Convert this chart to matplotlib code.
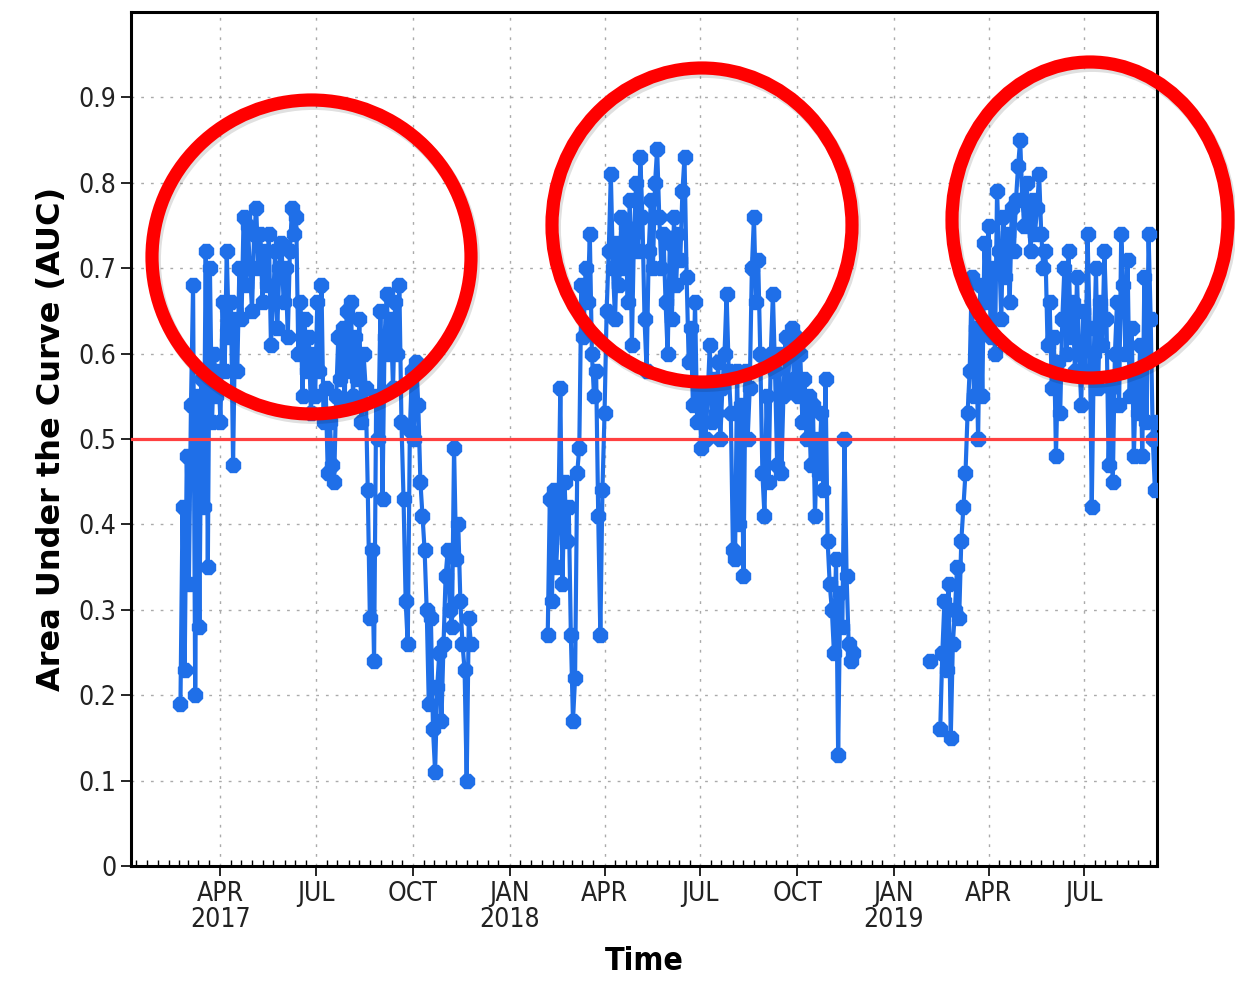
import matplotlib
matplotlib.use("Agg")
import matplotlib.pyplot as plt
import matplotlib.dates as mdates
from matplotlib.patches import Ellipse
import pandas as pd

plt.rcParams['font.family'] = ['Liberation Sans Narrow', 'DejaVu Sans']
plt.rcParams['font.stretch'] = 'condensed'

# AUC readings, one every 2 days from the start date of each run
start_2017 = "2017-02-22"
auc_2017 = [0.19, 0.42, 0.23, 0.48, 0.33, 0.54, 0.68, 0.20, 0.55, 0.28,
            0.57, 0.42, 0.72, 0.35, 0.70, 0.52, 0.60, 0.55, 0.58, 0.52,
            0.66, 0.58, 0.72, 0.62, 0.66, 0.47, 0.64, 0.58, 0.70, 0.64,
            0.76, 0.68, 0.75, 0.70, 0.65, 0.74, 0.77, 0.70, 0.74, 0.66,
            0.72, 0.68, 0.74, 0.61, 0.66, 0.72, 0.63, 0.70, 0.73, 0.66,
            0.70, 0.62, 0.72, 0.77, 0.74, 0.76, 0.60, 0.66, 0.55, 0.64,
            0.58, 0.62, 0.53, 0.60, 0.55, 0.66, 0.58, 0.68, 0.52, 0.56,
            0.46, 0.52, 0.47, 0.45, 0.55, 0.62, 0.57, 0.63, 0.54, 0.65,
            0.58, 0.66, 0.55, 0.62, 0.57, 0.64, 0.52, 0.60, 0.56, 0.44,
            0.29, 0.37, 0.24, 0.55, 0.50, 0.65, 0.43, 0.62, 0.67, 0.60,
            0.64, 0.56, 0.66, 0.60, 0.68, 0.52, 0.43, 0.31, 0.26, 0.51,
            0.58, 0.50, 0.59, 0.54, 0.45, 0.41, 0.37, 0.30, 0.19, 0.29,
            0.16, 0.11, 0.21, 0.25, 0.17, 0.26, 0.34, 0.37, 0.30, 0.28,
            0.49, 0.36, 0.40, 0.31, 0.26, 0.23, 0.10, 0.29, 0.26]

start_2018 = "2018-02-06"
auc_2018 = [0.27, 0.43, 0.31, 0.44, 0.35, 0.40, 0.56, 0.33, 0.45, 0.38,
            0.42, 0.27, 0.17, 0.22, 0.46, 0.49, 0.68, 0.62, 0.70, 0.66,
            0.74, 0.60, 0.55, 0.58, 0.41, 0.27, 0.44, 0.53, 0.65, 0.72,
            0.81, 0.70, 0.64, 0.73, 0.68, 0.76, 0.70, 0.75, 0.66, 0.78,
            0.61, 0.74, 0.80, 0.72, 0.83, 0.76, 0.64, 0.58, 0.72, 0.78,
            0.70, 0.80, 0.84, 0.76, 0.70, 0.74, 0.66, 0.60, 0.73, 0.64,
            0.76, 0.68, 0.74, 0.71, 0.79, 0.83, 0.69, 0.59, 0.63, 0.54,
            0.66, 0.52, 0.55, 0.49, 0.56, 0.50, 0.55, 0.61, 0.52, 0.57,
            0.53, 0.59, 0.50, 0.56, 0.60, 0.67, 0.58, 0.53, 0.37, 0.36,
            0.58, 0.40, 0.54, 0.34, 0.58, 0.50, 0.56, 0.70, 0.76, 0.66,
            0.71, 0.60, 0.46, 0.41, 0.55, 0.45, 0.60, 0.67, 0.58, 0.47,
            0.60, 0.46, 0.55, 0.62, 0.56, 0.60, 0.63, 0.57, 0.62, 0.55,
            0.60, 0.52, 0.57, 0.50, 0.55, 0.47, 0.54, 0.41, 0.50, 0.46,
            0.53, 0.44, 0.57, 0.38, 0.33, 0.30, 0.25, 0.36, 0.13, 0.32,
            0.28, 0.50, 0.34, 0.26, 0.24, 0.25]

single_date_2019 = "2019-02-04"
single_auc_2019 = 0.24

start_2019 = "2019-02-14"
auc_2019 = [0.16, 0.25, 0.31, 0.23, 0.33, 0.15, 0.26, 0.30, 0.35, 0.29,
            0.38, 0.42, 0.46, 0.53, 0.58, 0.69, 0.55, 0.63, 0.50, 0.68,
            0.55, 0.73, 0.66, 0.75, 0.62, 0.70, 0.60, 0.79, 0.72, 0.64,
            0.76, 0.69, 0.74, 0.66, 0.77, 0.72, 0.78, 0.82, 0.85, 0.78,
            0.75, 0.80, 0.76, 0.72, 0.78, 0.74, 0.77, 0.81, 0.74, 0.70,
            0.72, 0.61, 0.66, 0.56, 0.62, 0.48, 0.59, 0.53, 0.64, 0.70,
            0.60, 0.72, 0.62, 0.66, 0.58, 0.69, 0.60, 0.54, 0.65, 0.58,
            0.74, 0.63, 0.42, 0.60, 0.70, 0.56, 0.66, 0.61, 0.72, 0.64,
            0.47, 0.56, 0.45, 0.60, 0.66, 0.54, 0.74, 0.68, 0.60, 0.71,
            0.55, 0.63, 0.48, 0.57, 0.53, 0.61, 0.48, 0.69, 0.52, 0.74,
            0.64, 0.50, 0.44, 0.52]

tick_dates = ["2017-04-01", "2017-07-01", "2017-10-01", "2018-01-01",
              "2018-04-01", "2018-07-01", "2018-10-01", "2019-01-01",
              "2019-04-01", "2019-07-01"]
tick_labels = ["APR\n2017", "JUL", "OCT", "JAN\n2018", "APR", "JUL", "OCT",
               "JAN\n2019", "APR", "JUL"]
y_ticks = [0, 0.1, 0.2, 0.3, 0.4, 0.5, 0.6, 0.7, 0.8, 0.9]
y_labels = ["0", "0.1", "0.2", "0.3", "0.4", "0.5", "0.6", "0.7", "0.8", "0.9"]

blue = "#1f6fe8"

fig = plt.figure(figsize=(12.35, 9.82), dpi=100)
ax = fig.add_axes([131 / 1235, 116 / 982, 1026 / 1235, 854 / 982])

for start, vals in [(start_2017, auc_2017), (start_2018, auc_2018), (start_2019, auc_2019)]:
    dates = pd.date_range(start, periods=len(vals), freq="2D")
    ax.plot(dates, vals, color=blue, lw=3, marker="8", ms=11, mec=blue, zorder=3)
ax.plot([pd.Timestamp(single_date_2019)], [single_auc_2019], color=blue,
        marker="8", ms=11, ls="none", zorder=3)

ax.axhline(0.5, color="#ff4040", lw=2.3, zorder=4)

ax.set_xlim(pd.Timestamp("2017-01-06"), pd.Timestamp("2019-09-08"))
ax.set_ylim(0, 1.0)
ax.set_xticks([pd.Timestamp(d) for d in tick_dates])
ax.set_xticklabels(tick_labels, linespacing=1.0)
ax.xaxis.set_minor_locator(mdates.DayLocator(bymonthday=[1, 11, 21]))
ax.set_yticks(y_ticks)
ax.set_yticklabels(y_labels)

ax.grid(True, which="major", color="#aaaaaa", lw=1, ls=(0, (2, 5)))
ax.tick_params(axis="both", which="major", labelsize=19, labelcolor="#222222",
               length=7, width=1.2)
ax.tick_params(axis="x", which="minor", direction="in", length=4, width=1)
for s in ax.spines.values():
    s.set_linewidth(2.2)

ax.set_ylabel("Area Under the Curve (AUC)", fontsize=23, fontweight="bold",
              family="DejaVu Sans", fontstretch="normal", labelpad=8)
ax.set_xlabel("Time", fontsize=23, fontweight="bold", labelpad=10)

# hand-drawn style red rings over the chart
for cx, cy, w, h in [(311.5, 257, 319, 314), (702, 225, 300, 314), (1090, 220, 276, 316)]:
    sh = Ellipse(((cx + 2) / 1235, 1 - (cy + 3) / 982), w / 1235, h / 982, transform=fig.transFigure,
                 fill=False, ec="#000000", alpha=0.12, lw=10, zorder=9)
    fig.add_artist(sh)
    e = Ellipse((cx / 1235, 1 - cy / 982), w / 1235, h / 982, transform=fig.transFigure,
                fill=False, ec="#ff0000", lw=9.5, zorder=10)
    fig.add_artist(e)

fig.savefig("out.png", dpi=100)
